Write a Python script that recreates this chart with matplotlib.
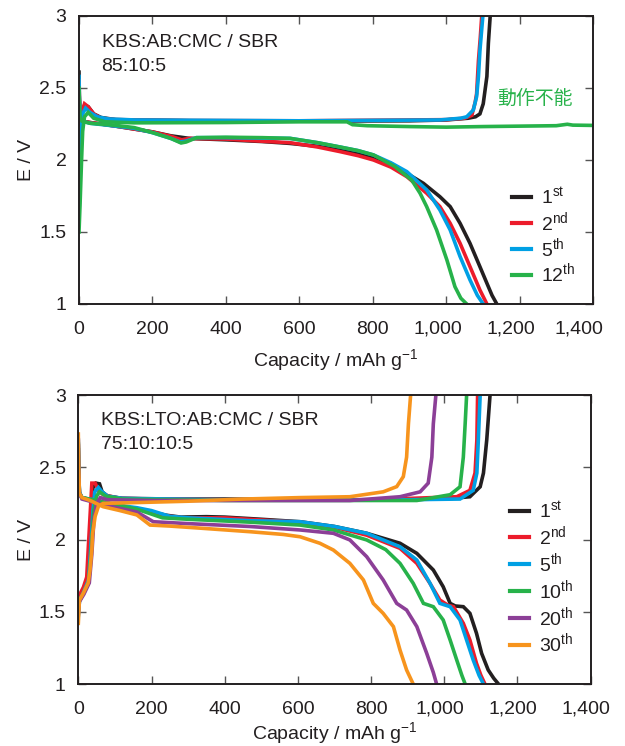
import matplotlib
matplotlib.use("Agg")
import matplotlib.pyplot as plt
from matplotlib.ticker import FuncFormatter
from matplotlib.transforms import ScaledTranslation

plt.rcParams["font.family"] = ["Liberation Sans", "DejaVu Sans"]
plt.rcParams["mathtext.fontset"] = "custom"
plt.rcParams["mathtext.rm"] = "Liberation Sans"
plt.rcParams["mathtext.it"] = "Liberation Sans"
plt.rcParams["mathtext.default"] = "regular"

INK = "#231f20"
C_BLACK = "#231f20"
C_RED = "#ec1c2b"
C_BLUE = "#00a0e4"
C_GREEN = "#27b24a"
C_PURPLE = "#8c3f97"
C_ORANGE = "#f7941d"

# ---------------- Upper cell: KBS:AB:CMC / SBR (85:10:5) ----------------
top_cycles = ["1$^{st}$", "2$^{nd}$", "5$^{th}$", "12$^{th}$"]
top_colors = [C_BLACK, C_RED, C_BLUE, C_GREEN]

top_dis_1st = [(0, 2.61), (1, 2.45), (3, 2.30), (8, 2.27), (30, 2.26), (60, 2.25), (100, 2.235),
               (150, 2.215), (200, 2.195), (250, 2.168), (300, 2.15), (400, 2.14), (500, 2.128),
               (575, 2.115), (650, 2.095), (711, 2.07), (760, 2.045), (802, 2.02), (850, 1.975),
               (893, 1.907), (938, 1.838), (983, 1.745), (1011, 1.676), (1038, 1.56),
               (1065, 1.421), (1092, 1.259), (1111, 1.144), (1125, 1.06), (1138, 1.0)]
top_dis_2nd = [(0, 2.55), (1, 2.42), (3, 2.30), (8, 2.27), (30, 2.26), (60, 2.25), (100, 2.235),
               (150, 2.215), (200, 2.195), (250, 2.165), (280, 2.14), (300, 2.15), (400, 2.145),
               (500, 2.13), (575, 2.12), (650, 2.09), (711, 2.058), (760, 2.03), (802, 2.0),
               (850, 1.95), (893, 1.884), (947, 1.769), (983, 1.676), (1011, 1.56),
               (1038, 1.421), (1065, 1.259), (1092, 1.097), (1111, 1.0)]
top_dis_5th = [(0, 2.58), (1, 2.42), (3, 2.30), (8, 2.27), (30, 2.255), (100, 2.235),
               (150, 2.22), (200, 2.19), (250, 2.15), (275, 2.125), (290, 2.13), (320, 2.155),
               (400, 2.155), (500, 2.152), (575, 2.15), (650, 2.12), (711, 2.09), (760, 2.065),
               (802, 2.035), (850, 1.98), (893, 1.919), (947, 1.792), (983, 1.653),
               (1011, 1.514), (1038, 1.329), (1065, 1.167), (1085, 1.06), (1101, 1.0)]
top_dis_12th = [(0, 2.50), (1, 2.40), (3, 2.30), (8, 2.27), (30, 2.255), (100, 2.24),
                (150, 2.225), (200, 2.19), (250, 2.15), (278, 2.118), (292, 2.125), (320, 2.155),
                (400, 2.158), (500, 2.155), (575, 2.15), (650, 2.12), (711, 2.09), (760, 2.065),
                (802, 2.035), (860, 1.955), (906, 1.861), (929, 1.769), (947, 1.676),
                (974, 1.514), (1002, 1.306), (1024, 1.12), (1040, 1.04), (1056, 1.0)]

top_chg_1st = [(0, 1.98), (2, 2.1), (4, 2.22), (8, 2.33), (15, 2.38), (25, 2.37), (40, 2.32),
               (60, 2.295), (100, 2.28), (300, 2.272), (600, 2.27), (900, 2.272), (1000, 2.278),
               (1060, 2.29), (1080, 2.30), (1092, 2.32), (1101, 2.39), (1111, 2.58),
               (1115, 2.81), (1120, 3.0)]
top_chg_2nd = [(0, 1.7), (2, 1.95), (4, 2.2), (8, 2.33), (15, 2.39), (25, 2.37), (40, 2.32),
               (60, 2.29), (100, 2.28), (300, 2.274), (600, 2.272), (1000, 2.28), (1050, 2.29),
               (1070, 2.31), (1079, 2.40), (1083, 2.46), (1088, 2.69), (1093, 2.85), (1097, 3.0)]
top_chg_5th = [(0, 1.6), (3, 1.9), (5, 2.2), (10, 2.32), (18, 2.36), (30, 2.33), (50, 2.30),
               (80, 2.285), (150, 2.278), (600, 2.272), (983, 2.278), (1040, 2.29),
               (1056, 2.30), (1074, 2.347), (1083, 2.44), (1088, 2.58), (1092, 2.76), (1100, 3.0)]
top_chg_12th = [(0, 1.5), (3, 1.7), (7, 2.0), (10, 2.2), (15, 2.3), (25, 2.33), (40, 2.29),
                (70, 2.265), (150, 2.258), (400, 2.26), (600, 2.265), (730, 2.265), (745, 2.245),
                (785, 2.238), (900, 2.232), (1000, 2.228), (1100, 2.232), (1200, 2.235),
                (1300, 2.238), (1330, 2.248), (1345, 2.242), (1400, 2.24)]

# ---------------- Lower cell: KBS:LTO:AB:CMC / SBR (75:10:10:5) ----------------
bot_cycles = ["1$^{st}$", "2$^{nd}$", "5$^{th}$", "10$^{th}$", "20$^{th}$", "30$^{th}$"]
bot_colors = [C_BLACK, C_RED, C_BLUE, C_GREEN, C_PURPLE, C_ORANGE]

bot_dis_1st = [(0, 2.62), (1, 2.45), (3, 2.32), (10, 2.29), (40, 2.27), (80, 2.25), (120, 2.23),
               (160, 2.21), (200, 2.19), (240, 2.168), (280, 2.155), (350, 2.158), (400, 2.155),
               (500, 2.14), (606, 2.123), (700, 2.09), (788, 2.043), (879, 1.974), (925, 1.904),
               (970, 1.789), (997, 1.673), (1016, 1.558), (1030, 1.54), (1052, 1.535),
               (1070, 1.489), (1088, 1.351), (1102, 1.212), (1120, 1.097), (1135, 1.04),
               (1148, 1.0)]
bot_dis_2nd = [(0, 2.65), (1, 2.47), (3, 2.32), (10, 2.29), (40, 2.27), (80, 2.25), (120, 2.23),
               (160, 2.21), (200, 2.19), (240, 2.165), (280, 2.15), (400, 2.15), (500, 2.135),
               (606, 2.12), (700, 2.085), (788, 2.03), (879, 1.939), (925, 1.835),
               (960, 1.70), (988, 1.581), (1010, 1.545), (1025, 1.535), (1052, 1.42),
               (1070, 1.304), (1088, 1.143), (1100, 1.06), (1111, 1.0)]
bot_dis_5th = [(0, 2.68), (1, 2.5), (3, 2.33), (10, 2.29), (50, 2.27), (100, 2.24), (160, 2.22),
               (200, 2.20), (250, 2.16), (300, 2.15), (469, 2.13), (606, 2.123), (700, 2.09),
               (788, 2.043), (879, 1.95), (925, 1.858), (961, 1.697), (988, 1.558),
               (1016, 1.535), (1043, 1.443), (1061, 1.304), (1079, 1.166), (1095, 1.06),
               (1107, 1.0)]
bot_dis_10th = [(0, 2.66), (1, 2.5), (3, 2.32), (10, 2.29), (68, 2.26), (160, 2.21),
                (230, 2.15), (300, 2.14), (469, 2.12), (606, 2.10), (697, 2.066), (788, 1.997),
                (840, 1.93), (879, 1.835), (915, 1.697), (943, 1.558), (970, 1.535),
                (997, 1.443), (1016, 1.304), (1034, 1.166), (1048, 1.06), (1057, 1.0)]
bot_dis_20th = [(0, 2.69), (1, 2.5), (3, 2.32), (10, 2.28), (68, 2.24), (160, 2.19),
                (205, 2.123), (300, 2.11), (469, 2.09), (606, 2.066), (697, 2.043),
                (742, 1.997), (788, 1.881), (833, 1.72), (870, 1.558), (897, 1.512),
                (925, 1.397), (952, 1.212), (970, 1.08), (979, 1.0)]
bot_dis_30th = [(0, 2.73), (1, 2.5), (3, 2.32), (10, 2.29), (32, 2.27), (68, 2.227),
                (114, 2.20), (160, 2.17), (196, 2.10), (250, 2.093), (342, 2.077),
                (469, 2.054), (560, 2.035), (606, 2.019), (660, 1.974), (697, 1.927),
                (742, 1.835), (779, 1.72), (806, 1.558), (833, 1.489), (861, 1.397),
                (879, 1.235), (897, 1.097), (915, 1.0)]

bot_chg_1st = [(0, 1.51), (3, 1.58), (15, 1.63), (25, 1.70), (30, 1.9), (35, 2.2), (40, 2.36),
               (48, 2.39), (58, 2.385), (65, 2.33), (80, 2.30), (120, 2.285), (200, 2.28),
               (400, 2.28), (600, 2.275), (800, 2.275), (1000, 2.28), (1070, 2.296),
               (1098, 2.365), (1107, 2.46), (1116, 2.69), (1125, 3.0)]
bot_chg_2nd = [(0, 1.6), (14, 1.67), (23, 1.74), (27, 1.93), (32, 2.16), (37, 2.39), (46, 2.39),
               (55, 2.34), (68, 2.31), (114, 2.285), (400, 2.275), (800, 2.275), (1034, 2.296),
               (1070, 2.34), (1084, 2.46), (1089, 2.69), (1091, 3.0)]
bot_chg_5th = [(0, 1.47), (3, 1.57), (15, 1.64), (28, 1.72), (33, 1.9), (40, 2.2), (45, 2.33),
               (55, 2.36), (65, 2.33), (80, 2.30), (120, 2.285), (400, 2.275), (800, 2.272),
               (1043, 2.28), (1079, 2.34), (1089, 2.46), (1093, 2.69), (1098, 3.0)]
bot_chg_10th = [(0, 1.55), (3, 1.58), (15, 1.63), (28, 1.70), (35, 1.9), (42, 2.2), (50, 2.30),
                (58, 2.33), (75, 2.30), (120, 2.28), (400, 2.27), (800, 2.27), (925, 2.27),
                (1016, 2.31), (1043, 2.365), (1052, 2.57), (1057, 2.8), (1061, 3.0)]
bot_chg_20th = [(0, 1.48), (3, 1.57), (15, 1.62), (30, 1.70), (37, 1.9), (43, 2.15), (50, 2.25),
                (60, 2.29), (80, 2.275), (200, 2.27), (500, 2.27), (742, 2.27), (879, 2.296),
                (934, 2.33), (956, 2.39), (966, 2.57), (970, 2.8), (977, 3.0)]
bot_chg_30th = [(0, 1.42), (3, 1.58), (14, 1.63), (27, 1.70), (32, 1.79), (37, 1.93),
                (39, 2.04), (46, 2.16), (55, 2.23), (68, 2.25), (150, 2.255), (300, 2.265),
                (450, 2.28), (606, 2.29), (742, 2.296), (833, 2.33), (870, 2.366),
                (888, 2.435), (897, 2.57), (902, 2.80), (908, 3.0)]

top_discharge = [top_dis_1st, top_dis_2nd, top_dis_5th, top_dis_12th]
top_charge = [top_chg_1st, top_chg_2nd, top_chg_5th, top_chg_12th]
bot_discharge = [bot_dis_1st, bot_dis_2nd, bot_dis_5th, bot_dis_10th, bot_dis_20th, bot_dis_30th]
bot_charge = [bot_chg_1st, bot_chg_2nd, bot_chg_5th, bot_chg_10th, bot_chg_20th, bot_chg_30th]

x_ticks = [0, 200, 400, 600, 800, 1000, 1200, 1400]
y_ticks = [1, 1.5, 2, 2.5, 3]

FS = 14

fig = plt.figure(figsize=(6.25, 7.46), dpi=100)
ax_top = fig.add_axes([0.1264, 0.5925, 0.8224, 0.3861])
ax_bot = fig.add_axes([0.1253, 0.0831, 0.8198, 0.3874])


def draw_cell(ax, discharge, charge, colors, labels):
    for dis, chg, col, lab in zip(discharge, charge, colors, labels):
        ax.plot([p[0] for p in dis], [p[1] for p in dis], color=col, lw=2.6,
                solid_joinstyle="miter", label=lab)
        ax.plot([p[0] for p in chg], [p[1] for p in chg], color=col, lw=2.6,
                solid_joinstyle="miter")
    ax.set_xlim(0, 1400)
    ax.set_ylim(1, 3)
    ax.set_xticks(x_ticks)
    ax.set_yticks(y_ticks)
    ax.xaxis.set_major_formatter(FuncFormatter(lambda v, _: f"{int(v):,}"))
    ax.yaxis.set_major_formatter(FuncFormatter(lambda v, _: f"{v:g}"))
    ax.tick_params(direction="in", top=True, right=True, length=6, width=1.0,
                   color="#555555", labelsize=FS, labelcolor=INK)
    ax.tick_params(axis="x", pad=12)
    ax.tick_params(axis="y", pad=9)
    for s in ax.spines.values():
        s.set_color(INK)
        s.set_linewidth(1.4)
    ax.set_xlabel("Capacity / mAh g$^{-1}$", fontsize=FS, color=INK)
    ax.set_ylabel("E / V", fontsize=FS, color=INK, labelpad=3)


draw_cell(ax_top, top_discharge, top_charge, top_colors, top_cycles)
draw_cell(ax_bot, bot_discharge, bot_charge, bot_colors, bot_cycles)

# the comma-grouped labels sit a little left of their ticks
def nudge_labels(ax, shifts_px):
    for lbl, dx in zip(ax.get_xticklabels(), shifts_px):
        lbl.set_transform(lbl.get_transform()
                          + ScaledTranslation(dx / 100.0, 0, fig.dpi_scale_trans))


nudge_labels(ax_top, [0, 0, 0, 0, 0, -8, -9, -14])
nudge_labels(ax_bot, [0, 0, 0, 0, 0, -4, -5, -5])

ax_top.xaxis.set_label_coords(0.5, -0.15)
ax_bot.xaxis.set_label_coords(0.5, -0.124)

ax_top.text(0.044, 0.892, "KBS:AB:CMC / SBR", transform=ax_top.transAxes,
            fontsize=FS, color=INK, va="baseline", ha="left")
ax_top.text(0.044, 0.809, "85:10:5", transform=ax_top.transAxes,
            fontsize=FS, color=INK, va="baseline", ha="left")
ax_bot.text(0.044, 0.896, "KBS:LTO:AB:CMC / SBR", transform=ax_bot.transAxes,
            fontsize=FS, color=INK, va="baseline", ha="left")
ax_bot.text(0.044, 0.813, "75:10:10:5", transform=ax_bot.transAxes,
            fontsize=FS, color=INK, va="baseline", ha="left")

ax_top.text(1139, 2.425, "動作不能", color=C_GREEN, fontsize=13.6,
            family=["Noto Sans CJK JP", "DejaVu Sans"], ha="left", va="center")

leg_kw = dict(frameon=False, fontsize=FS, handlelength=1.0, handletextpad=0.5,
              borderpad=0, borderaxespad=0, loc="center left")
lt = ax_top.legend(bbox_to_anchor=(0.842, 0.236), labelspacing=0.1, **leg_kw)
lb = ax_bot.legend(bbox_to_anchor=(0.8425, 0.368), labelspacing=0.15, **leg_kw)
for lg in (lt, lb):
    for h in lg.get_lines():
        h.set_linewidth(3.0)
    for t in lg.get_texts():
        t.set_color(INK)

fig.savefig("out.png", dpi=100)
